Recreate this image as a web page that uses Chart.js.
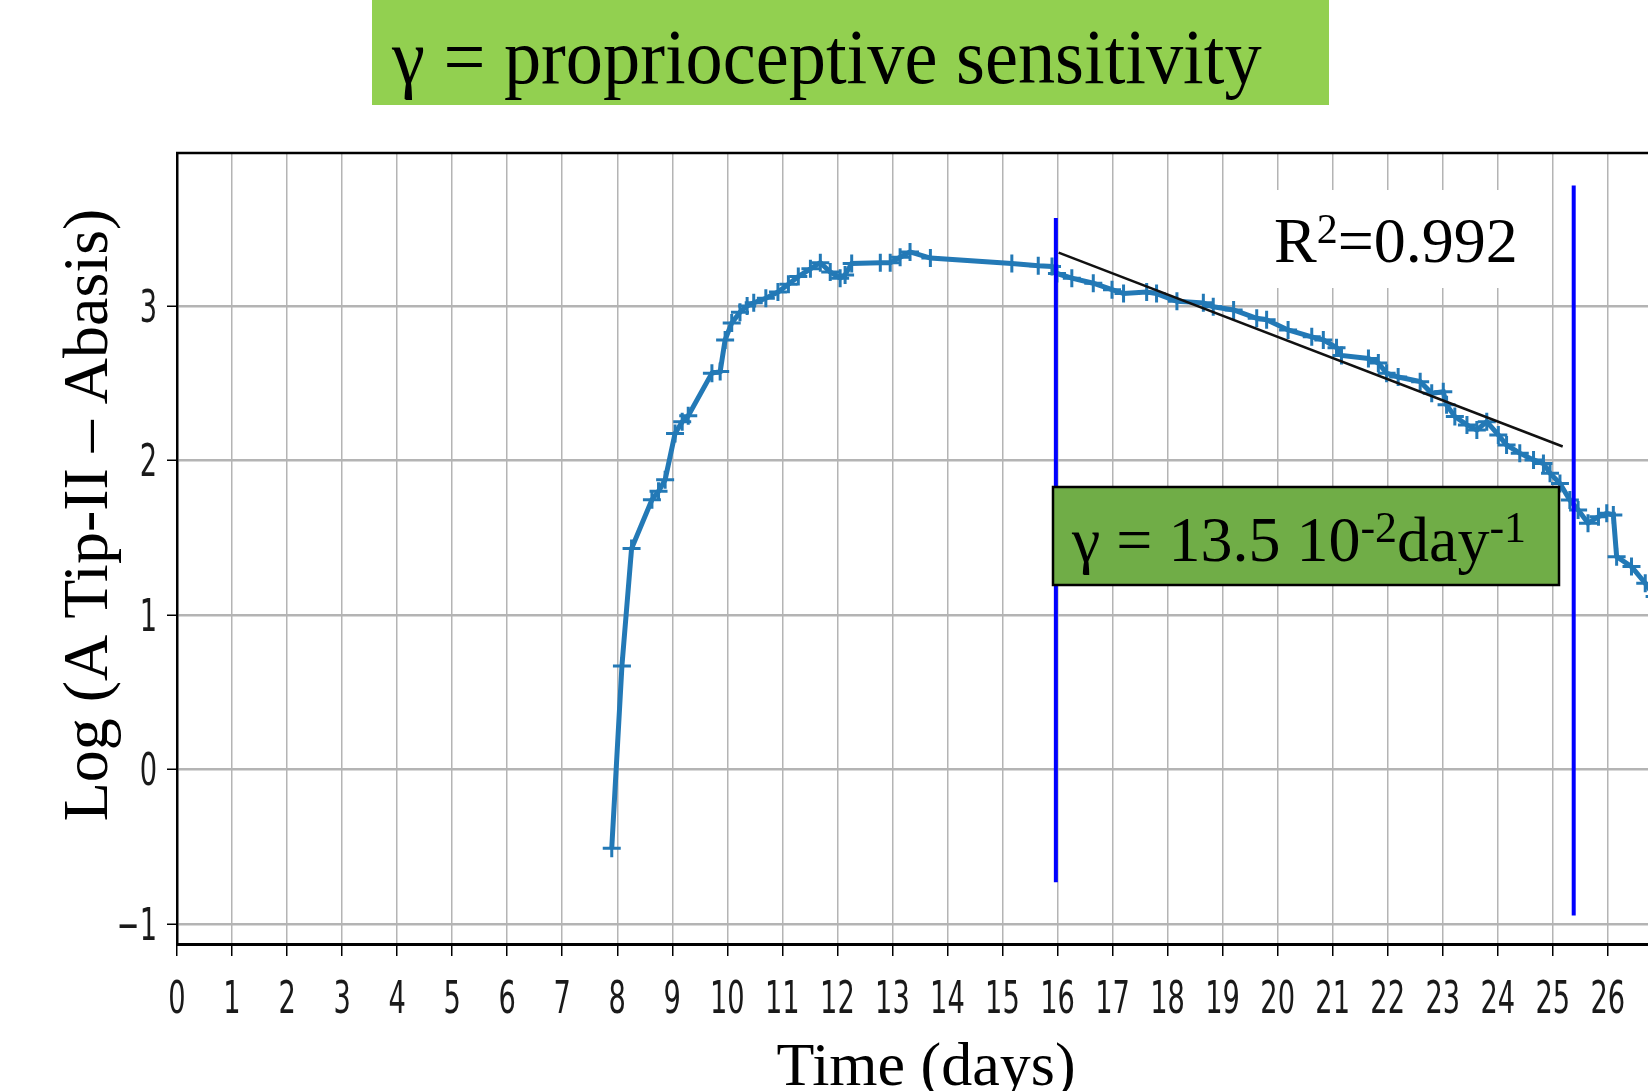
<!DOCTYPE html>
<html>
<head>
<meta charset="utf-8">
<script src="https://cdn.jsdelivr.net/npm/chart.js@4.4.1/dist/chart.umd.min.js"></script>
<style>
  body { margin: 0; background: #fff; }
  #wrap { width: 1648px; height: 1091px; position: relative; }
</style>
</head>
<body>
<div id="wrap"><canvas id="c" width="1648" height="1091"></canvas></div>
<script>
// measured curve (time in days, log amplitude)
var days = [7.90, 8.085, 8.26, 8.63, 8.75, 8.87, 9.05, 9.18, 9.29, 9.72, 9.87, 9.96,
  10.08, 10.23, 10.36, 10.48, 10.70, 10.92, 11.11, 11.29, 11.51, 11.69, 11.87, 12.05,
  12.14, 12.26, 12.78, 12.96, 13.14, 13.32, 13.69, 15.17, 15.65, 15.90, 15.99, 16.26,
  16.65, 16.99, 17.20, 17.62, 17.80, 18.17, 18.65, 18.83, 19.20, 19.62, 19.80, 20.19,
  20.62, 20.83, 21.07, 21.16, 21.65, 21.83, 21.98, 22.19, 22.59, 22.80, 23.01, 23.07,
  23.22, 23.44, 23.62, 23.80, 24.01, 24.16, 24.40, 24.65, 24.83, 24.95, 25.13, 25.31,
  25.46, 25.64, 25.83, 25.98, 26.10, 26.16, 26.43, 26.68, 26.85];
var logAmp = [-0.51, 0.67, 1.43, 1.745, 1.80, 1.875, 2.175, 2.25, 2.29, 2.565, 2.575, 2.78,
  2.89, 2.96, 3.00, 3.02, 3.05, 3.09, 3.14, 3.19, 3.24, 3.28, 3.22, 3.18,
  3.20, 3.275, 3.28, 3.28, 3.315, 3.35, 3.31, 3.275, 3.26, 3.255, 3.21, 3.18,
  3.147, 3.105, 3.08, 3.09, 3.08, 3.03, 3.02, 2.995, 2.974, 2.92, 2.91, 2.845,
  2.80, 2.78, 2.73, 2.68, 2.66, 2.63, 2.565, 2.54, 2.51, 2.435, 2.445, 2.36,
  2.284, 2.23, 2.197, 2.251, 2.165, 2.10, 2.047, 2.003, 1.98, 1.917, 1.85, 1.744,
  1.68, 1.594, 1.636, 1.658, 1.647, 1.377, 1.313, 1.205, 1.12];

// linear fit between the two markers
var fitDays = [16.02, 25.18];
var fitVals = [3.345, 2.09];

// blue window markers
var win1Day = 15.97, win1Range = [-0.73, 3.57];
var win2Day = 25.38, win2Range = [-0.945, 3.78];

var xTicks = [0,1,2,3,4,5,6,7,8,9,10,11,12,13,14,15,16,17,18,19,20,21,22,23,24,25,26];
var yTicks = [-1, 0, 1, 2, 3];

function pts(xs, ys) {
  var out = [];
  for (var i = 0; i < xs.length; i++) out.push({x: xs[i], y: ys[i]});
  return out;
}

function squeezed(ctx, txt, x, y, align, k) {
  ctx.save();
  ctx.translate(x, y);
  ctx.scale(k, 1);
  ctx.textAlign = align;
  ctx.fillText(txt, 0, 0);
  ctx.restore();
}

// text run with superscripts: parts = [[text, isSup], ...]
function richText(ctx, parts, x, y, size, supK) {
  var cx = x;
  parts.forEach(function(p) {
    if (p[1]) {
      ctx.font = Math.round(size * supK) + 'px "Liberation Serif"';
      ctx.fillText(p[0], cx, y - size * 0.3);
    } else {
      ctx.font = size + 'px "Liberation Serif"';
      ctx.fillText(p[0], cx, y);
    }
    cx += ctx.measureText(p[0]).width;
  });
}

var overlay = {
  id: 'overlay',
  afterDraw: function(chart) {
    var ctx = chart.ctx;
    var a = chart.chartArea;
    var xs = chart.scales.x, ys = chart.scales.y;
    ctx.save();

    // top frame
    ctx.strokeStyle = '#000';
    ctx.lineWidth = 2.5;
    ctx.beginPath();
    ctx.moveTo(a.left - 1, a.top);
    ctx.lineTo(1648, a.top);
    ctx.stroke();

    // tick labels
    ctx.fillStyle = '#1a1a1a';
    ctx.font = '44px "DejaVu Sans"';
    ctx.textBaseline = 'alphabetic';
    xTicks.forEach(function(v) {
      squeezed(ctx, String(v), xs.getPixelForValue(v), 1013, 'center', 0.62);
    });
    yTicks.forEach(function(v) {
      var lab = v < 0 ? '\u2212' + Math.abs(v) : String(v);
      squeezed(ctx, lab, 157, ys.getPixelForValue(v) + 16, 'right', 0.62);
    });

    // axis titles
    ctx.fillStyle = '#000';
    ctx.font = '62px "Liberation Serif"';
    ctx.textAlign = 'center';
    ctx.fillText('Time (days)', 926, 1085);
    ctx.save();
    ctx.translate(107, 515);
    ctx.rotate(-Math.PI / 2);
    ctx.font = '64px "Liberation Serif"';
    ctx.fillText('Log (A Tip-II \u2013 Abasis)', 0, 0);
    ctx.restore();

    // heading box
    ctx.fillStyle = '#92D050';
    ctx.fillRect(372, 0, 957, 105);
    ctx.fillStyle = '#000';
    ctx.font = '78px "Liberation Serif"';
    squeezed(ctx, '\u03b3 = proprioceptive sensitivity', 392, 83, 'left', 0.953);
    ctx.textAlign = 'left';

    // R^2 label
    ctx.fillStyle = '#fff';
    ctx.fillRect(1255, 190, 275, 98);
    ctx.fillStyle = '#000';
    richText(ctx, [['R', false], ['2', true], ['=0.992', false]], 1274, 262, 64, 0.66);

    // gamma value box
    ctx.fillStyle = '#70AD47';
    ctx.fillRect(1053, 487, 506, 98);
    ctx.strokeStyle = '#000';
    ctx.lineWidth = 2.5;
    ctx.strokeRect(1053, 487, 506, 98);
    ctx.fillStyle = '#000';
    richText(ctx, [['\u03b3 = 13.5 10', false], ['-2', true], ['day', false], ['-1', true]], 1072, 561, 64, 0.68);

    ctx.restore();
  }
};

new Chart(document.getElementById('c'), {
  type: 'scatter',
  data: {
    datasets: [
      {
        data: [{x: win1Day, y: win1Range[0]}, {x: win1Day, y: win1Range[1]}],
        showLine: true, borderColor: '#0000ff', borderWidth: 4, pointRadius: 0
      },
      {
        data: [{x: win2Day, y: win2Range[0]}, {x: win2Day, y: win2Range[1]}],
        showLine: true, borderColor: '#0000ff', borderWidth: 4, pointRadius: 0
      },
      {
        data: pts(fitDays, fitVals),
        showLine: true, borderColor: '#111', borderWidth: 2.5, pointRadius: 0
      },
      {
        data: pts(days, logAmp),
        showLine: true, borderColor: '#2379b6', borderWidth: 5,
        pointStyle: 'cross', pointRadius: 9, pointBorderWidth: 3,
        pointBorderColor: '#2379b6', pointBackgroundColor: '#2379b6'
      }
    ]
  },
  options: {
    responsive: false,
    animation: false,
    layout: { autoPadding: false, padding: { left: 167, top: 153, right: 0, bottom: 135 } },
    plugins: { legend: { display: false }, tooltip: { enabled: false } },
    scales: {
      x: {
        type: 'linear', min: 0, max: 26.73,
        afterBuildTicks: function(s) { s.ticks = xTicks.map(function(v) { return {value: v}; }); },
        ticks: { display: false, autoSkip: false },
        grid: { color: '#b4b4b4', lineWidth: 1.5, tickLength: 12, tickColor: '#000', tickWidth: 1.5 },
        border: { color: '#000', width: 3 }
      },
      y: {
        type: 'linear', min: -1.13, max: 3.99,
        afterBuildTicks: function(s) { s.ticks = yTicks.map(function(v) { return {value: v}; }); },
        ticks: { display: false, autoSkip: false },
        grid: { color: '#b4b4b4', lineWidth: 2.5, tickLength: 10, tickColor: '#000', tickWidth: 1.5 },
        border: { color: '#000', width: 2.5 }
      }
    }
  },
  plugins: [overlay]
});
</script>
</body>
</html>
